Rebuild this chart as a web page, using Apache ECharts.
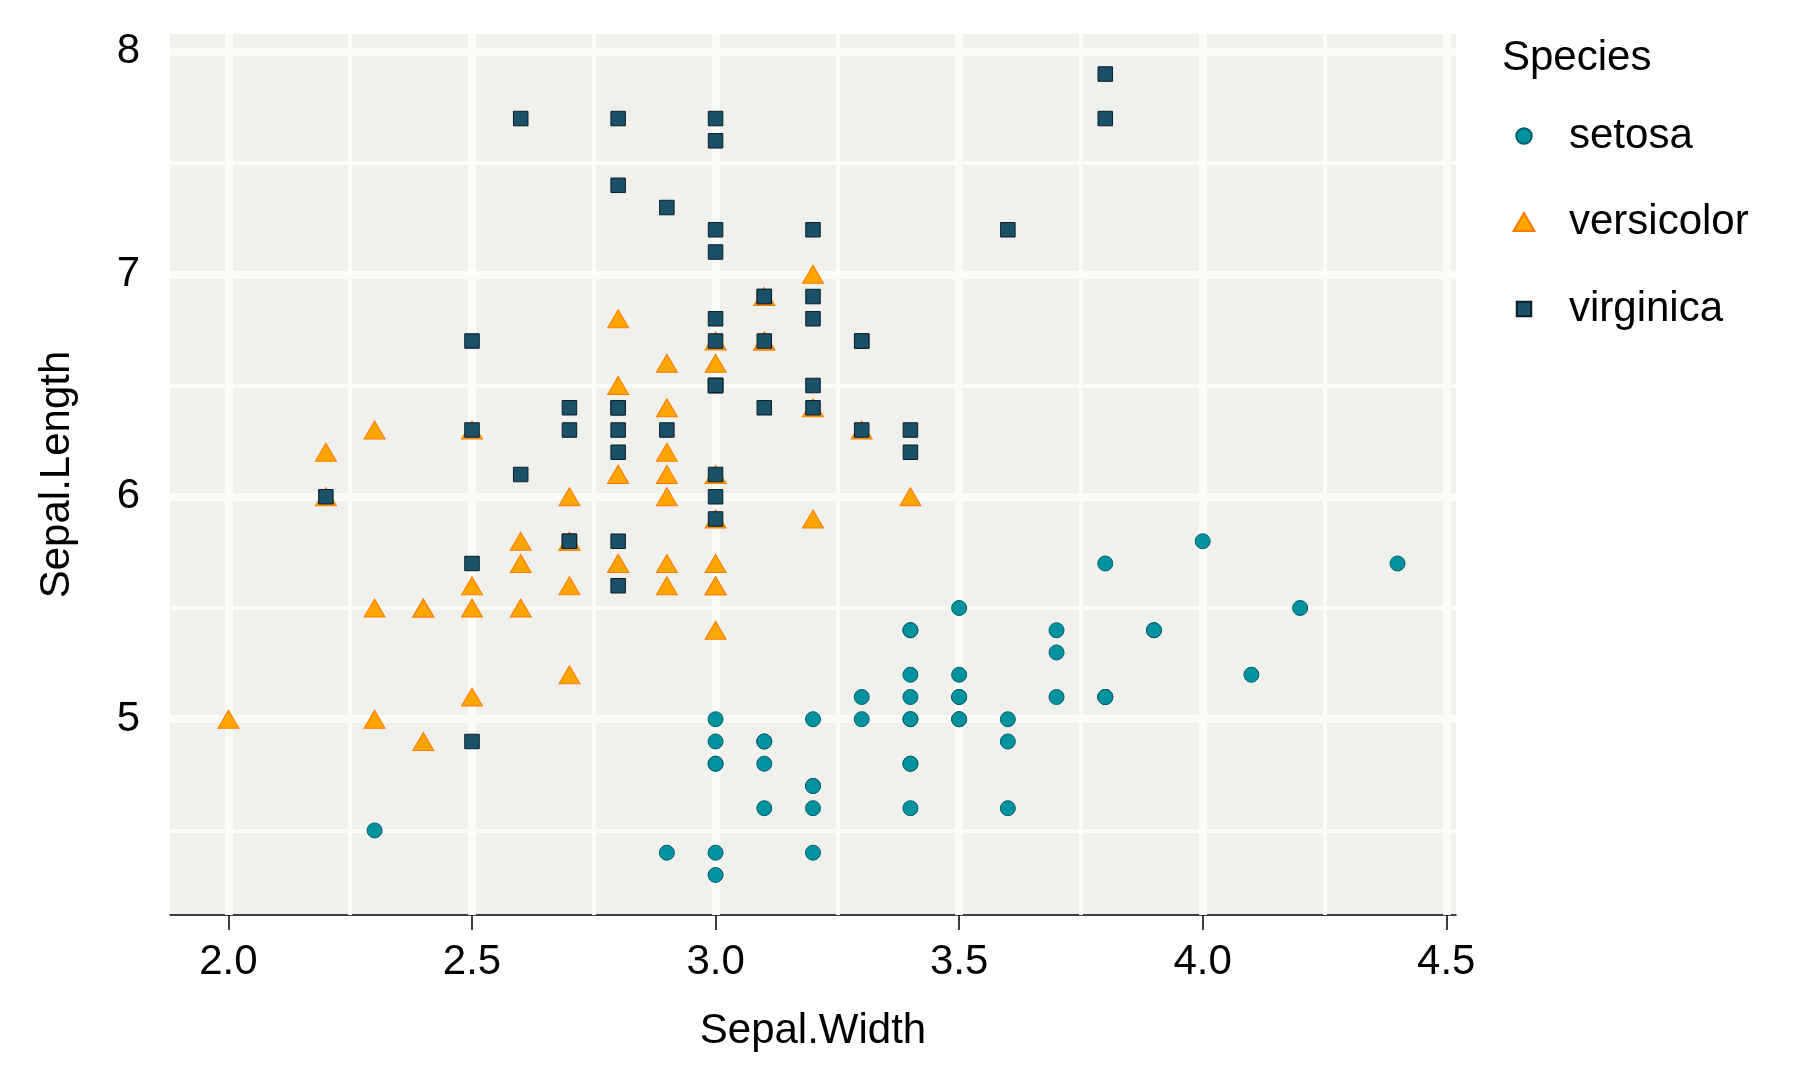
<!DOCTYPE html>
<html>
<head>
<meta charset="utf-8">
<title>Sepal.Length vs Sepal.Width</title>
<script src="https://cdn.jsdelivr.net/npm/echarts@6/dist/echarts.min.js"></script>
<style>
  html, body { margin: 0; padding: 0; background: #fff; }
  #chart { width: 1800px; height: 1080px; }
</style>
</head>
<body>
<div id="chart"></div>
<script>
// iris data, one pair of arrays per species
const setosaWidth = [3.5, 3.0, 3.2, 3.1, 3.6, 3.9, 3.4, 3.4, 2.9, 3.1, 3.7, 3.4, 3.0, 3.0, 4.0, 4.4, 3.9, 3.5, 3.8, 3.8,
  3.4, 3.7, 3.6, 3.3, 3.4, 3.0, 3.4, 3.5, 3.4, 3.2, 3.1, 3.4, 4.1, 4.2, 3.1, 3.2, 3.5, 3.6, 3.0, 3.4,
  3.5, 2.3, 3.2, 3.5, 3.8, 3.0, 3.8, 3.2, 3.7, 3.3];
const setosaLength = [5.1, 4.9, 4.7, 4.6, 5.0, 5.4, 4.6, 5.0, 4.4, 4.9, 5.4, 4.8, 4.8, 4.3, 5.8, 5.7, 5.4, 5.1, 5.7, 5.1,
  5.4, 5.1, 4.6, 5.1, 4.8, 5.0, 5.0, 5.2, 5.2, 4.7, 4.8, 5.4, 5.2, 5.5, 4.9, 5.0, 5.5, 4.9, 4.4, 5.1,
  5.0, 4.5, 4.4, 5.0, 5.1, 4.8, 5.1, 4.6, 5.3, 5.0];

const versicolorWidth = [3.2, 3.2, 3.1, 2.3, 2.8, 2.8, 3.3, 2.4, 2.9, 2.7, 2.0, 3.0, 2.2, 2.9, 2.9, 3.1, 3.0, 2.7, 2.2, 2.5,
  3.2, 2.8, 2.5, 2.8, 2.9, 3.0, 2.8, 3.0, 2.9, 2.6, 2.4, 2.4, 2.7, 2.7, 3.0, 3.4, 3.1, 2.3, 3.0, 2.5,
  2.6, 3.0, 2.6, 2.3, 2.7, 3.0, 2.9, 2.9, 2.5, 2.8];
const versicolorLength = [7.0, 6.4, 6.9, 5.5, 6.5, 5.7, 6.3, 4.9, 6.6, 5.2, 5.0, 5.9, 6.0, 6.1, 5.6, 6.7, 5.6, 5.8, 6.2, 5.6,
  5.9, 6.1, 6.3, 6.1, 6.4, 6.6, 6.8, 6.7, 6.0, 5.7, 5.5, 5.5, 5.8, 6.0, 5.4, 6.0, 6.7, 6.3, 5.6, 5.5,
  5.5, 6.1, 5.8, 5.0, 5.6, 5.7, 5.7, 6.2, 5.1, 5.7];

const virginicaWidth = [3.3, 2.7, 3.0, 2.9, 3.0, 3.0, 2.5, 2.9, 2.5, 3.6, 3.2, 2.7, 3.0, 2.5, 2.8, 3.2, 3.0, 3.8, 2.6, 2.2,
  3.2, 2.8, 2.8, 2.7, 3.3, 3.2, 2.8, 3.0, 2.8, 3.0, 2.8, 3.8, 2.8, 2.8, 2.6, 3.0, 3.4, 3.1, 3.0, 3.1,
  3.1, 3.1, 2.7, 3.2, 3.3, 3.0, 2.5, 3.0, 3.4, 3.0];
const virginicaLength = [6.3, 5.8, 7.1, 6.3, 6.5, 7.6, 4.9, 7.3, 6.7, 7.2, 6.5, 6.4, 6.8, 5.7, 5.8, 6.4, 6.5, 7.7, 7.7, 6.0,
  6.9, 5.6, 7.7, 6.3, 6.7, 7.2, 6.2, 6.1, 6.4, 7.2, 7.4, 7.9, 6.4, 6.3, 6.1, 7.7, 6.3, 6.4, 6.0, 6.9,
  6.7, 6.9, 5.8, 6.8, 6.7, 6.7, 6.3, 6.5, 6.2, 5.9];

// axis breaks
const xMajor = [2.0, 2.5, 3.0, 3.5, 4.0, 4.5];
const xMinor = [2.25, 2.75, 3.25, 3.75, 4.25];
const yMajor = [5, 6, 7, 8];
const yMinor = [4.5, 5.5, 6.5, 7.5];
const xLabels = ['2.0', '2.5', '3.0', '3.5', '4.0', '4.5'];

const FONT = "'Liberation Sans', Arial, sans-serif";
const FS = 42;
const GRID_COL = '#fbfbf8';

function zip(xs, ys) {
    return xs.map((x, i) => [x, ys[i]]);
}

function gridLines() {
    const lines = [];
    xMajor.forEach(v => lines.push({ xAxis: v, lineStyle: { width: 8 } }));
    xMinor.forEach(v => lines.push({ xAxis: v, lineStyle: { width: 4 } }));
    yMajor.forEach(v => lines.push({ yAxis: v, lineStyle: { width: 8 } }));
    yMinor.forEach(v => lines.push({ yAxis: v, lineStyle: { width: 4 } }));
    return lines;
}

// one legend per key so each symbol keeps its own size
function legendFor(name, icon, top, w, h) {
    const cx = 1523, textX = 1568;
    return {
        data: [{ name: name, icon: icon }],
        left: cx - w / 2,
        top: top,
        padding: 0,
        itemWidth: w,
        itemHeight: h,
        selectedMode: false,
        textStyle: {
            fontSize: FS, color: '#000', fontFamily: FONT,
            padding: [0, 0, 0, textX - (cx + w / 2) - 5]
        }
    };
}

const chart = echarts.init(document.getElementById('chart'));

const option = {
    animation: false,
    backgroundColor: '#fff',
    textStyle: { fontFamily: FONT },
    title: {
        text: 'Species',
        left: 1502,
        top: 37,
        padding: 0,
        textStyle: { fontSize: FS, fontWeight: 'normal', color: '#000', fontFamily: FONT }
    },
    legend: [
        legendFor('setosa', 'circle', 115, 15.5, 15.5),
        legendFor('versicolor', 'triangle', 201, 21, 18),
        legendFor('virginica', 'rect', 288, 14.5, 14.5)
    ],
    grid: {
        left: 170,
        right: 344,
        top: 34,
        bottom: 165,
        show: true,
        backgroundColor: '#f0f1ec',
        borderWidth: 0
    },
    xAxis: {
        type: 'value',
        min: 1.88,
        max: 4.52,
        name: 'Sepal.Width',
        nameLocation: 'middle',
        nameGap: 95,
        nameTextStyle: { fontSize: FS, color: '#000', fontFamily: FONT },
        axisLine: { show: true, lineStyle: { color: '#000', width: 1.5 } },
        axisTick: { show: true, length: 15, customValues: xMajor, lineStyle: { color: '#000', width: 1.5 } },
        axisLabel: {
            customValues: xMajor,
            margin: 26,
            fontSize: FS,
            color: '#000',
            fontFamily: FONT,
            formatter: v => xLabels[xMajor.indexOf(Math.round(v * 100) / 100)] || v.toFixed(1)
        },
        splitLine: { show: false },
        minorSplitLine: { show: false }
    },
    yAxis: {
        type: 'value',
        min: 4.12,
        max: 8.08,
        name: 'Sepal.Length',
        nameLocation: 'middle',
        nameGap: 92,
        nameTextStyle: { fontSize: FS, color: '#000', fontFamily: FONT },
        axisLine: { show: false },
        axisTick: { show: false },
        axisLabel: {
            customValues: yMajor,
            margin: 30,
            padding: [6, 0, 0, 0],
            fontSize: FS,
            color: '#000',
            fontFamily: FONT
        },
        splitLine: { show: false }
    },
    series: [
        {
            name: 'setosa',
            type: 'scatter',
            symbol: 'circle',
            symbolSize: 15,
            z: 3,
            itemStyle: { color: '#00929f', borderColor: '#005e6b', borderWidth: 1, opacity: 1 },
            data: zip(setosaWidth, setosaLength),
            markLine: {
                silent: true,
                z: 1,
                symbol: ['none', 'none'],
                label: { show: false },
                emphasis: { disabled: true },
                lineStyle: { color: GRID_COL, type: 'solid', opacity: 1 },
                data: gridLines()
            }
        },
        {
            name: 'versicolor',
            type: 'scatter',
            symbol: 'triangle',
            symbolSize: [21, 18],
            z: 4,
            itemStyle: { color: '#ffa500', borderColor: '#ff7c00', borderWidth: 1, opacity: 1 },
            data: zip(versicolorWidth, versicolorLength)
        },
        {
            name: 'virginica',
            type: 'scatter',
            symbol: 'rect',
            symbolSize: 14.5,
            z: 5,
            itemStyle: { color: '#1b5069', borderColor: '#0a1f2b', borderWidth: 1, opacity: 1 },
            data: zip(virginicaWidth, virginicaLength)
        }
    ]
};

chart.setOption(option);

window.addEventListener('resize', function() {
    chart.resize();
});
</script>
</body>
</html>
